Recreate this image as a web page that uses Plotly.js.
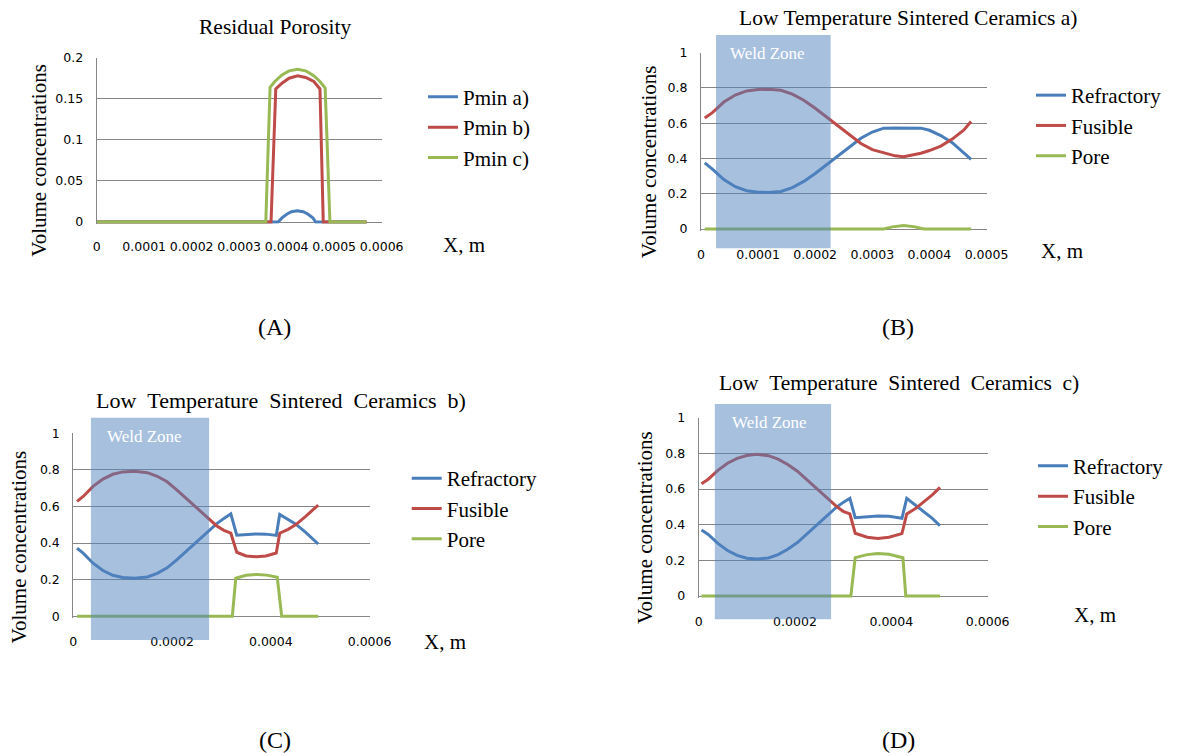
<!DOCTYPE html>
<html><head><meta charset="utf-8">
<script src="https://cdn.plot.ly/plotly-3.0.1.min.js"></script>
<style>html,body{margin:0;padding:0;background:#fff;} #chart{width:1186px;height:756px;}</style>
</head><body><div id="chart"></div>
<script>
// ================= DATA =================
// (A) Residual Porosity
const poroX_a = [0, 3.82e-4, 3.90e-4, 4.00e-4, 4.10e-4, 4.22e-4, 4.35e-4, 4.45e-4, 4.55e-4, 4.61e-4, 5.68e-4];
const pminA   = [0, 0, 0.005, 0.0095, 0.0125, 0.0138, 0.0125, 0.0095, 0.005, 0, 0];
const poroX_b = [0, 3.67e-4, 3.77e-4, 3.90e-4, 4.05e-4, 4.23e-4, 4.40e-4, 4.57e-4, 4.70e-4, 4.77e-4, 5.68e-4];
const pminB   = [0, 0, 0.162, 0.169, 0.175, 0.178, 0.176, 0.171, 0.162, 0, 0];
const poroX_c = [0, 3.56e-4, 3.65e-4, 3.75e-4, 3.90e-4, 4.05e-4, 4.23e-4, 4.40e-4, 4.57e-4, 4.70e-4, 4.81e-4, 4.91e-4, 5.68e-4];
const pminC   = [0, 0, 0.164, 0.171, 0.179, 0.184, 0.186, 0.184, 0.178, 0.171, 0.163, 0, 0];
const xTicksA = [0, 1e-4, 2e-4, 3e-4, 4e-4, 5e-4, 6e-4];
const xTextA  = ['0', '0.0001', '0.0002', '0.0003', '0.0004', '0.0005', '0.0006'];
const yTicksA = [0, 0.05, 0.1, 0.15, 0.2];
const yTextA  = ['0', '0.05', '0.1', '0.15', '0.2'];

// (B) Low Temperature Sintered Ceramics a)
const xB = [0.065e-4, 0.2e-4, 0.4e-4, 0.6e-4, 0.8e-4, 1.0e-4, 1.18e-4, 1.4e-4, 1.6e-4, 1.8e-4, 2.0e-4, 2.2e-4, 2.4e-4,
            2.6e-4, 2.8e-4, 3.0e-4, 3.2e-4, 3.4e-4, 3.55e-4, 3.7e-4, 3.85e-4, 4.0e-4, 4.2e-4, 4.4e-4, 4.6e-4, 4.73e-4];
const refrB = [0.375, 0.34, 0.28, 0.24, 0.217, 0.209, 0.207, 0.213, 0.235, 0.27, 0.315, 0.365, 0.42,
               0.47, 0.515, 0.55, 0.572, 0.573, 0.573, 0.573, 0.572, 0.56, 0.53, 0.49, 0.435, 0.395];
const fusB  = [0.63, 0.66, 0.72, 0.76, 0.783, 0.791, 0.793, 0.787, 0.765, 0.73, 0.685, 0.635, 0.58,
               0.53, 0.485, 0.45, 0.432, 0.415, 0.41, 0.418, 0.43, 0.445, 0.47, 0.51, 0.56, 0.61];
const poreXB = [0.065e-4, 3.2e-4, 3.35e-4, 3.55e-4, 3.75e-4, 3.9e-4, 4.73e-4];
const poreB  = [0, 0, 0.012, 0.02, 0.012, 0, 0];
const weldB  = [0.263e-4, 2.27e-4];
const xTicksB = [0, 1e-4, 2e-4, 3e-4, 4e-4, 5e-4];
const xTextB  = ['0', '0.0001', '0.0002', '0.0003', '0.0004', '0.0005'];

// (C) Low Temperature Sintered Ceramics b)
const xC = [0.076e-4, 0.2e-4, 0.4e-4, 0.6e-4, 0.8e-4, 1.0e-4, 1.24e-4, 1.5e-4, 1.7e-4, 1.9e-4, 2.1e-4, 2.3e-4, 2.5e-4,
            2.7e-4, 2.9e-4, 3.05e-4, 3.19e-4, 3.31e-4, 3.5e-4, 3.71e-4, 3.9e-4, 4.11e-4, 4.18e-4, 4.35e-4, 4.5e-4, 4.7e-4, 4.96e-4];
const refrC = [0.372, 0.345, 0.29, 0.25, 0.224, 0.212, 0.208, 0.215, 0.235, 0.265, 0.31, 0.36, 0.41,
               0.46, 0.505, 0.535, 0.56, 0.443, 0.448, 0.45, 0.449, 0.442, 0.557, 0.53, 0.505, 0.46, 0.395];
const fusC  = [0.628, 0.655, 0.71, 0.75, 0.776, 0.789, 0.792, 0.785, 0.765, 0.735, 0.69, 0.64, 0.59,
               0.54, 0.495, 0.47, 0.454, 0.35, 0.33, 0.325, 0.33, 0.346, 0.454, 0.475, 0.5, 0.545, 0.608];
const poreXC = [0.076e-4, 3.22e-4, 3.29e-4, 3.5e-4, 3.71e-4, 3.92e-4, 4.13e-4, 4.22e-4, 4.96e-4];
const poreC  = [0, 0, 0.208, 0.224, 0.229, 0.225, 0.213, 0, 0];
const weldC  = [0.357e-4, 2.75e-4];

// (D) Low Temperature Sintered Ceramics c)
const xD = [0.06e-4, 0.2e-4, 0.4e-4, 0.6e-4, 0.8e-4, 1.0e-4, 1.21e-4, 1.45e-4, 1.65e-4, 1.85e-4, 2.05e-4, 2.25e-4, 2.45e-4,
            2.65e-4, 2.85e-4, 3.0e-4, 3.14e-4, 3.25e-4, 3.5e-4, 3.72e-4, 3.95e-4, 4.22e-4, 4.32e-4, 4.5e-4, 4.7e-4, 4.85e-4, 5.01e-4];
const refrD = [0.37, 0.345, 0.295, 0.255, 0.228, 0.212, 0.207, 0.213, 0.232, 0.262, 0.3, 0.35, 0.4,
               0.45, 0.495, 0.525, 0.548, 0.439, 0.446, 0.449, 0.447, 0.436, 0.548, 0.51, 0.465, 0.435, 0.394];
const fusD  = [0.63, 0.655, 0.705, 0.745, 0.772, 0.788, 0.795, 0.787, 0.768, 0.738, 0.7, 0.65, 0.6,
               0.55, 0.505, 0.475, 0.46, 0.352, 0.33, 0.323, 0.33, 0.35, 0.46, 0.49, 0.535, 0.567, 0.609];
const poreXD = [0.06e-4, 3.16e-4, 3.25e-4, 3.5e-4, 3.72e-4, 3.95e-4, 4.24e-4, 4.30e-4, 5.01e-4];
const poreD  = [0, 0, 0.215, 0.232, 0.238, 0.234, 0.215, 0, 0];
const weldD  = [0.337e-4, 2.75e-4];

const xTicksCD = [0, 2e-4, 4e-4, 6e-4];
const xTextCD  = ['0', '0.0002', '0.0004', '0.0006'];
const yTicks1  = [0, 0.2, 0.4, 0.6, 0.8, 1];
const yText1   = ['0', '0.2', '0.4', '0.6', '0.8', '1'];

// ================= STYLE / LAYOUT =================
const W = 1186, H = 756;
const BLUE = '#4A7EBB', RED = '#BE4B48', GREEN = '#98B954';
const GRID = '#868686';
const SERIF = 'Liberation Serif';
const SANS = 'DejaVu Sans';
const px2x = p => p / W;
const px2y = p => 1 - p / H;
const EN = '\u2002';

function mkX(left, right, range, tv, tt, anchor) {
  return {domain: [px2x(left), px2x(right)], range: range, anchor: anchor,
    tickmode: 'array', tickvals: tv, ticktext: tt, showgrid: false, zeroline: false,
    showline: false, ticks: '', ticklabelstandoff: 14,
    tickfont: {family: SANS, size: 12.5, color: '#000'}, fixedrange: true};
}
function mkY(topPx, zeroPx, topVal, ext, tv, tt, anchor) {
  const unit = (zeroPx - topPx) / topVal;
  const bottomPx = zeroPx + ext * unit;
  return {domain: [px2y(bottomPx), px2y(topPx)], range: [-ext, topVal], anchor: anchor,
    tickmode: 'array', tickvals: tv, ticktext: tt, showgrid: true, gridcolor: GRID, gridwidth: 1,
    zeroline: true, zerolinecolor: GRID, zerolinewidth: 1,
    showline: true, linecolor: GRID, linewidth: 1, ticks: '', ticklabelstandoff: 10,
    tickfont: {family: SANS, size: 12.5, color: '#000'}, fixedrange: true};
}

function line(x, y, name, color, xa, ya, leg) {
  return {type: 'scatter', mode: 'lines', x: x, y: y, name: name, xaxis: xa, yaxis: ya, legend: leg,
    line: {color: color, width: 3}, hoverinfo: 'skip'};
}

const traces = [
  line(poroX_a, pminA, 'Pmin a)', BLUE, 'x', 'y', 'legend'),
  line(poroX_b, pminB, 'Pmin b)', RED, 'x', 'y', 'legend'),
  line(poroX_c, pminC, 'Pmin c)', GREEN, 'x', 'y', 'legend'),
  line(xB, refrB, 'Refractory', BLUE, 'x2', 'y2', 'legend2'),
  line(xB, fusB, 'Fusible', RED, 'x2', 'y2', 'legend2'),
  line(poreXB, poreB, 'Pore', GREEN, 'x2', 'y2', 'legend2'),
  line(xC, refrC, 'Refractory', BLUE, 'x3', 'y3', 'legend3'),
  line(xC, fusC, 'Fusible', RED, 'x3', 'y3', 'legend3'),
  line(poreXC, poreC, 'Pore', GREEN, 'x3', 'y3', 'legend3'),
  line(xD, refrD, 'Refractory', BLUE, 'x4', 'y4', 'legend4'),
  line(xD, fusD, 'Fusible', RED, 'x4', 'y4', 'legend4'),
  line(poreXD, poreD, 'Pore', GREEN, 'x4', 'y4', 'legend4')
];

function leg(leftLinePx, firstRowPx) {
  return {x: px2x(leftLinePx - 5), y: px2y(firstRowPx - 21), xanchor: 'left', yanchor: 'top',
    bgcolor: 'rgba(0,0,0,0)', borderwidth: 0, font: {family: SERIF, size: 21, color: '#000'},
    tracegroupgap: 0, itemwidth: 30};
}

function txt(xpx, ypx, text, size, extra) {
  return Object.assign({xref: 'paper', yref: 'paper', x: px2x(xpx), y: px2y(ypx), text: text,
    showarrow: false, xanchor: 'center', yanchor: 'middle',
    font: {family: SERIF, size: size, color: '#000'}}, extra || {});
}
function weldText(xa, xval, ypx) {
  return {xref: xa, yref: 'paper', x: xval, y: px2y(ypx), text: 'Weld Zone', showarrow: false,
    xanchor: 'center', yanchor: 'middle', font: {family: SERIF, size: 17, color: '#ffffff'}};
}
function weldRect(xa, xr, topPx, botPx) {
  return {type: 'rect', xref: xa, yref: 'paper', x0: xr[0], x1: xr[1], y0: px2y(botPx), y1: px2y(topPx),
    fillcolor: 'rgba(79,129,189,0.5)', line: {width: 0}, layer: 'above'};
}

const layout = {
  width: W, height: H, margin: {l: 0, r: 0, t: 0, b: 0}, paper_bgcolor: '#fff', plot_bgcolor: 'rgba(0,0,0,0)',
  font: {family: SERIF, size: 21, color: '#000'},
  showlegend: true,
  xaxis:  mkX(96.7, 381.7, [0, 6e-4], xTicksA, xTextA, 'y'),
  yaxis:  mkY(57.7, 222.0, 0.2, 0.002, yTicksA, yTextA, 'x'),
  xaxis2: mkX(701.0, 986.5, [0, 5e-4], xTicksB, xTextB, 'y2'),
  yaxis2: mkY(52.7, 229.0, 1, 0.012, yTicks1, yText1, 'x2'),
  xaxis3: mkX(73.3, 369.6, [0, 6e-4], xTicksCD, xTextCD, 'y3'),
  yaxis3: mkY(433.3, 616.3, 1, 0.012, yTicks1, yText1, 'x3'),
  xaxis4: mkX(698.6, 987.7, [0, 6e-4], xTicksCD, xTextCD, 'y4'),
  yaxis4: mkY(417.7, 596.0, 1, 0.012, yTicks1, yText1, 'x4'),
  legend:  leg(428, 97.7),
  legend2: leg(1036, 96),
  legend3: leg(411.7, 479),
  legend4: leg(1038, 466.7),
  shapes: [
    weldRect('x2', weldB, 35, 248.3),
    weldRect('x3', weldC, 417.7, 640),
    weldRect('x4', weldD, 404, 619.3)
  ],
  annotations: [
    txt(275, 26.7, 'Residual Porosity', 21.5),
    txt(908, 18.3, 'Low Temperature Sintered Ceramics a)', 21.5),
    txt(281, 400, ['Low', 'Temperature', 'Sintered', 'Ceramics', 'b)'].join(EN), 22),
    txt(899, 383.3, ['Low', 'Temperature', 'Sintered', 'Ceramics', 'c)'].join(EN), 21.5),
    txt(39, 160.8, 'Volume concentrations', 21, {textangle: -90}),
    txt(648.5, 161.7, 'Volume concentrations', 21, {textangle: -90}),
    txt(18.8, 546.7, 'Volume concentrations', 21, {textangle: -90}),
    txt(645, 528, 'Volume concentrations', 21, {textangle: -90}),
    txt(464, 245, 'X, m', 21),
    txt(1062, 250.7, 'X, m', 21),
    txt(445, 641.7, 'X, m', 21),
    txt(1095, 615, 'X, m', 21),
    txt(274, 327, '(A)', 24),
    txt(898, 327, '(B)', 24),
    txt(275, 740, '(C)', 24),
    txt(898, 740, '(D)', 24),
    weldText('x2', 1.16e-4, 53.3),
    weldText('x3', 1.45e-4, 436.7),
    weldText('x4', 1.47e-4, 422.3)
  ]
};

Plotly.newPlot('chart', traces, layout, {staticPlot: true, displayModeBar: false});
</script>
</body></html>
